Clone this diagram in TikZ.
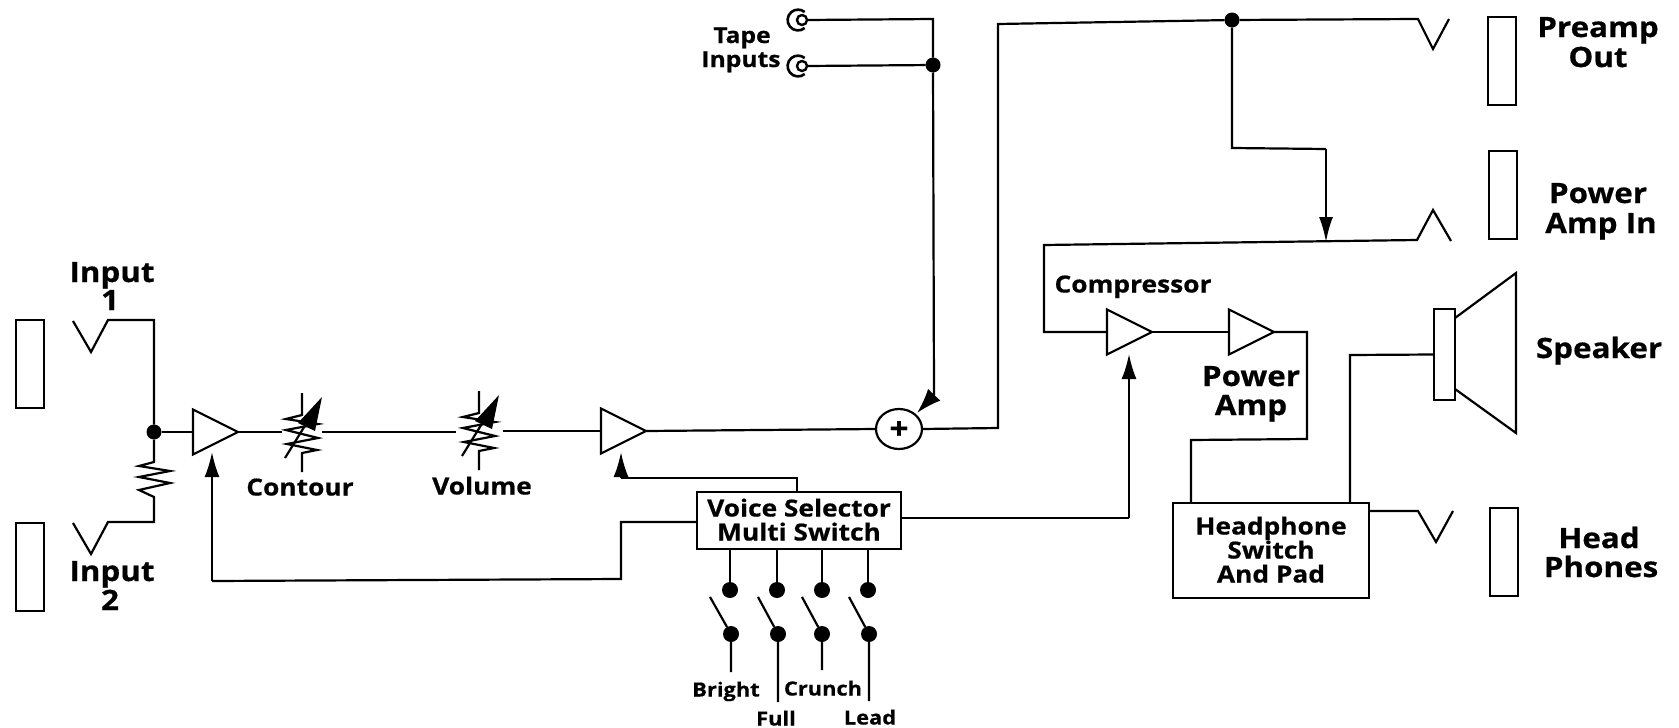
\documentclass[tikz,border=0pt]{standalone}
\usepackage{fontspec}
\setmainfont{Open Sans}[BoldFeatures={FakeStretch=1.12,FakeBold=0.6}]
\usetikzlibrary{shapes.geometric,arrows.meta}
\tikzset{
  wire/.style={line width=2.2pt,line join=miter},
  arrowwire/.style={wire,-{Latex[length=25pt,width=15pt]}},
  jackbox/.style={draw,line width=2pt,rectangle,inner sep=0,outer sep=0,minimum width=28pt,minimum height=88pt},
  blockbox/.style={draw,line width=2.2pt,rectangle,inner sep=0,outer sep=0,align=center},
  amp/.style={draw,line width=2.2pt,isosceles triangle,isosceles triangle stretches,shape border rotate=0,inner sep=0,outer sep=0,minimum width=45pt,minimum height=45pt,anchor=apex},
  dotn/.style={circle,fill=black,inner sep=0,outer sep=0,minimum size=#1},
  dotn/.default=15pt,
  lbl/.style={font=\fontsize{28}{30}\selectfont\bfseries,inner sep=0,align=center,text height=20pt,text depth=0pt},
  lbls/.style={font=\fontsize{23.5}{26}\selectfont\bfseries,inner sep=0,align=center,text height=17pt,text depth=0pt},
  lblt/.style={font=\fontsize{19.5}{22}\selectfont\bfseries,inner sep=0,align=center,text height=15pt,text depth=0pt},
  lblq/.style={font=\fontsize{22}{24}\selectfont\bfseries,inner sep=0,align=center,text height=16pt,text depth=0pt},
  pot/.pic={
    \draw[wire] (0,-39) -- (0,-17) -- (-16,-13) -- (16,-8) -- (-16,-2) -- (16,6) -- (-15,12) -- (15,18) -- (0,21) -- (0,40);
    \draw[wire] (-17,26) -- (4,-8);
    \fill (-4,-9) -- (20,-35) -- (13,-1) -- cycle;
  },
  tapejack/.pic={
    \draw[line width=2.6pt] (4.7,8) arc[start angle=50,end angle=310,radius=10.4];
  }
}
\begin{document}
\begin{tikzpicture}[x=1pt,y=-1pt]
\useasboundingbox (0,0) rectangle (1679,728);
% jack panels
\node[jackbox] (inbox1) at (29.5,364) {};
\node[jackbox] (inbox2) at (29.5,567) {};
\node[jackbox] (prebox) at (1501.5,61) {};
\node[jackbox] (powbox) at (1503,195) {};
\node[jackbox] (hpbox) at (1504,552) {};
% amps
\node[amp] (a1) at (238,432) {};
\node[amp] (a2) at (646,431) {};
\node[amp] (a3) at (1152,332) {};
\node[amp] (a4) at (1274,332) {};
% blocks
\node[blockbox,minimum width=204pt,minimum height=57pt] (voice) at (799,520.5) {};
\node[blockbox,minimum width=196pt,minimum height=95pt] (hp) at (1271,550.5) {};
\node[ellipse,draw,line width=2.2pt,inner sep=0,outer sep=0,minimum width=46pt,minimum height=40pt] (sum) at (899,429) {};
\node[font=\fontsize{30}{30}\selectfont\bfseries,inner sep=0,text height=20pt,text depth=0pt] (plus) at (899,429) {+};
% dots
\node[dotn] (d1) at (154,432) {};
\node[dotn] (dt) at (933,65) {};
\node[dotn] (dp) at (1232,20) {};
% input jacks
\coordinate (i1a) at (73,321); \coordinate (i1b) at (91,352); \coordinate (i1c) at (108,320); \coordinate (i1d) at (154,320);
\coordinate (i2a) at (73,523); \coordinate (i2b) at (91,554); \coordinate (i2c) at (108,522); \coordinate (i2d) at (154,522);
\draw[wire] (i1a) -- (i1b) -- (i1c) -- (i1d) -- (d1);
\draw[wire] (i2a) -- (i2b) -- (i2c) -- (i2d) -- (154,500) -- (154,497) -- (139,490) -- (170,483) -- (139,477) -- (170,471) -- (139,466) -- (154,462) -- (d1);
\draw[wire] (d1) -- (a1.lower side);
% pots
\pic at (302,432) {pot};
\pic at (479,430) {pot};
\coordinate (p1l) at (282,432); \coordinate (p1r) at (322,432);
\coordinate (p2l) at (456,432); \coordinate (p2r) at (503,431);
\draw[wire] (a1.apex) -- (p1l);
\draw[wire] (p1r) -- (p2l);
\draw[wire] (p2r) -- (a2.lower side);
\draw[wire] (a2.apex) -- (sum.west);
% tape
\node[circle,draw,line width=2.4pt,inner sep=0,outer sep=0,minimum size=10pt] (t1) at (802,20) {};
\node[circle,draw,line width=2.4pt,inner sep=0,outer sep=0,minimum size=10pt] (t2) at (802,66) {};
\pic at (800,20) {tapejack};
\pic at (800,66) {tapejack};
\coordinate (tc) at (933,19); \coordinate (tb) at (934,395); \coordinate (stip) at (917,413);
\draw[wire] (t1.east) -- (tc) -- (dt);
\draw[wire] (t2.east) -- (dt);
\draw[wire] (dt) -- (tb);
\draw[wire,-{Latex[length=25pt,width=17pt]}] (tb) -- (stip);
% output of sum
\coordinate (s1) at (998,428); \coordinate (s2) at (998,24);
\coordinate (pa) at (1418,19); \coordinate (pb) at (1433,49); \coordinate (pc) at (1449,19);
\draw[wire] (sum.east) -- (s1) -- (s2) -- (dp) -- (pa) -- (pb) -- (pc);
% branch
\coordinate (b1) at (1232,148); \coordinate (b2) at (1326,149); \coordinate (b3) at (1326,242);
\draw[wire] (dp) -- (b1) -- (b2);
\draw[wire,-{Latex[length=25pt,width=14pt]}] (b2) -- (b3);
\coordinate (ra) at (1451,241); \coordinate (rb) at (1433,210); \coordinate (rc) at (1417,240); \coordinate (rd) at (1044,245); \coordinate (re) at (1044,332);
\draw[wire] (ra) -- (rb) -- (rc) -- (rd) -- (re) -- (a3.lower side);
\draw[wire] (a3.apex) -- (a4.lower side);
\coordinate (o1) at (1307,332); \coordinate (o2) at (1307,439); \coordinate (o3) at (1191,440);
\draw[wire] (a4.apex) -- (o1) -- (o2) -- (o3) -- (o3 |- hp.north);
% speaker
\node[draw,line width=2.2pt,rectangle,inner sep=0,outer sep=0,minimum width=21pt,minimum height=91pt] (spk) at (1444.5,354.5) {};
\coordinate (c1) at (1516,273); \coordinate (c2) at (1516,433); \coordinate (c3) at (1455,318); \coordinate (c4) at (1455,389);
\draw[wire] (c3) -- (c1) -- (c2) -- (c4);
\coordinate (f1) at (1350,355);
\draw[wire] (f1 |- hp.north) -- (f1) -- (spk.west);
% headphone jack
\coordinate (ha) at (1418,511); \coordinate (hb) at (1436,542); \coordinate (hc) at (1453,511);
\draw[wire] (hp.east |- ha) -- (ha) -- (hb) -- (hc);
% voice connections
\coordinate (v1) at (797,478); \coordinate (v2) at (621,478); \coordinate (v3) at (621,452);
\draw[wire] (v1 |- voice.north) -- (v1) -- (v2);
\draw[arrowwire] (v2) -- (v3);
\coordinate (l1) at (621,522); \coordinate (l2) at (621,579); \coordinate (l3) at (212,581); \coordinate (l4) at (212,452);
\draw[wire] (voice.west |- l1) -- (l1) -- (l2) -- (l3);
\draw[arrowwire] (l3) -- (l4);
\coordinate (r1) at (1129,518); \coordinate (r2) at (1129,354);
\draw[wire] (voice.east |- r1) -- (r1);
\draw[arrowwire] (r1) -- (r2);
% switches
\foreach \n/\xa/\xb/\xt/\yb in {a/730/731/710/672,b/777/778/758/702,c/822/822/802/670,d/868/869/849/701}{
  \node[dotn=16pt] (u\n) at (\xa,590) {};
  \node[dotn=16pt] (w\n) at (\xb,634) {};
  \coordinate (bl\n) at (\xt,597);
  \coordinate (e\n) at (\xb,\yb);
  \draw[wire] (u\n |- voice.south) -- (u\n);
  \draw[wire] (bl\n) -- (w\n) -- (e\n);
}
% labels
\node[lbl] (t_in1) at (112,272) {Input}; \node[lbl] (t_in1b) at (110,300) {1};
\node[lbl] (t_in2) at (112,571) {Input}; \node[lbl] (t_in2b) at (110,600) {2};
\node[lbls] (t_con) at (300,487) {Contour};
\node[lbls] (t_vol) at (482,486) {Volume};
\node[lblq] (t_tape) at (742,35) {Tape};
\node[lblq] (t_inp) at (741,59) {Inputs};
\node[lbls] (t_v1) at (799,508) {Voice Selector};
\node[lbls] (t_v2) at (799,532) {Multi Switch};
\node[lblt] (t_br) at (726,689) {Bright};
\node[lblt] (t_cr) at (823,688) {Crunch};
\node[lblt] (t_fu) at (776,718) {Full};
\node[lblt] (t_le) at (870,717) {Lead};
\node[lbls] (t_comp) at (1133,284) {Compressor};
\node[lbl] (t_pa1) at (1251,376) {Power}; \node[lbl] (t_pa2) at (1251,405) {Amp};
\node[lbls] (t_h1) at (1271,526) {Headphone};
\node[lbls] (t_h2) at (1271,550) {Switch};
\node[lbls] (t_h3) at (1271,574) {And Pad};
\node[lbl] (t_p1) at (1598,27) {Preamp}; \node[lbl] (t_p2) at (1598,57) {Out};
\node[lbl] (t_r1) at (1598,193) {Power}; \node[lbl] (t_r2) at (1601,223) {Amp In};
\node[lbl] (t_s) at (1599,348) {Speaker};
\node[lbl] (t_d1) at (1599,538) {Head}; \node[lbl] (t_d2) at (1601,567) {Phones};
\end{tikzpicture}
\end{document}
